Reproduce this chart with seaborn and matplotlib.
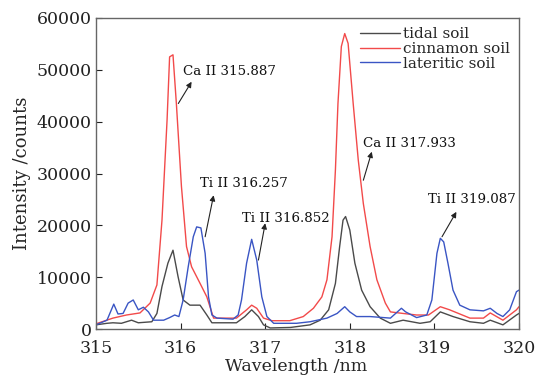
import matplotlib
matplotlib.use("Agg")
import matplotlib.pyplot as plt
import seaborn as sns
import pandas as pd

# ---- data ----
tidal_x = [315.00, 315.13, 315.20, 315.30, 315.42, 315.50, 315.66, 315.72, 315.78, 315.85, 315.91,
           315.97, 316.03, 316.11, 316.23, 316.31, 316.37, 316.66, 316.76, 316.84, 316.92, 316.98,
           317.06, 317.30, 317.53, 317.65, 317.75, 317.83, 317.88, 317.92, 317.95, 318.00, 318.06,
           318.14, 318.24, 318.36, 318.48, 318.63, 318.83, 318.95, 319.07, 319.22, 319.42, 319.58,
           319.66, 319.81, 319.97, 320.00]
tidal_y = [800, 1100, 1200, 1100, 1700, 1200, 1400, 3000, 8200, 12700, 15200,
           10100, 5600, 4600, 4600, 2700, 1200, 1200, 2400, 3700, 2400, 800,
           200, 300, 800, 1700, 3700, 8800, 15900, 21000, 21700, 19100, 12700,
           7500, 4300, 2100, 1100, 1700, 1100, 1400, 3300, 2400, 1400, 1100,
           1700, 800, 2700, 3000]

cinnamon_x = [315.00, 315.20, 315.36, 315.52, 315.64, 315.72, 315.78, 315.84, 315.87, 315.91,
              315.95, 316.01, 316.07, 316.13, 316.23, 316.31, 316.39, 316.66, 316.78, 316.84,
              316.90, 316.98, 317.08, 317.29, 317.45, 317.57, 317.67, 317.73, 317.79, 317.83,
              317.86, 317.90, 317.94, 317.98, 318.04, 318.10, 318.16, 318.24, 318.32, 318.42,
              318.48, 318.63, 318.79, 318.93, 319.07, 319.18, 319.42, 319.58, 319.66, 319.81,
              319.97, 320.00]
cinnamon_y = [1000, 2100, 2700, 3100, 5000, 8500, 21000, 40300, 52500, 52900,
              43500, 27500, 15900, 12000, 8800, 6200, 2100, 2100, 3700, 4600,
              4000, 2100, 1600, 1600, 2400, 4000, 6200, 9500, 17800, 30700,
              43500, 54500, 57000, 55100, 43500, 32600, 24200, 15900, 9500, 5000,
              3300, 3000, 2700, 2700, 4300, 3700, 2100, 2100, 3100, 1700,
              3700, 4300]

lateritic_x = [315.00, 315.13, 315.21, 315.26, 315.32, 315.38, 315.44, 315.50, 315.56, 315.62,
               315.68, 315.80, 315.87, 315.93, 315.98, 316.03, 316.09, 316.15, 316.19, 316.24,
               316.29, 316.33, 316.37, 316.43, 316.62, 316.68, 316.72, 316.78, 316.84, 316.90,
               316.96, 317.02, 317.10, 317.37, 317.53, 317.73, 317.85, 317.94, 318.00, 318.08,
               318.24, 318.48, 318.61, 318.66, 318.79, 318.91, 318.97, 319.03, 319.07, 319.11,
               319.16, 319.22, 319.30, 319.42, 319.58, 319.66, 319.74, 319.81, 319.89, 319.97,
               320.00]
lateritic_y = [800, 1700, 4800, 2900, 3000, 5000, 5600, 3700, 4200, 3300,
               1700, 1700, 2200, 2700, 2400, 5600, 12000, 17800, 19700, 19500,
               14600, 6200, 2700, 2100, 1900, 2700, 5600, 12700, 17300, 13300,
               6200, 2400, 1100, 1100, 1400, 2100, 3000, 4300, 3300, 2400,
               2400, 2100, 4000, 3300, 2200, 2700, 5600, 14600, 17500, 16800,
               12700, 7500, 4600, 3700, 3500, 4000, 3000, 2400, 3700, 7200,
               7500]

series_names = ["tidal soil", "cinnamon soil", "lateritic soil"]
colors = ["#4a4a4a", "#f24a4a", "#3a55c4"]

annotations = [
    ("Ca II 315.887", (316.03, 49600), (315.973, 43500), (316.13, 47700)),
    ("Ti II 316.257", (316.23, 28100), (316.29, 17800), (316.39, 25800)),
    ("Ti II 316.852", (316.72, 21400), (316.92, 13300), (317.00, 20400)),
    ("Ca II 317.933", (318.16, 35800), (318.16, 28700), (318.26, 34200)),
    ("Ti II 319.087", (318.92, 25000), (319.09, 17800), (319.26, 22600)),
]

# ---- build long-form table ----
frames = []
for name, xs, ys in zip(series_names,
                        [tidal_x, cinnamon_x, lateritic_x],
                        [tidal_y, cinnamon_y, lateritic_y]):
    frames.append(pd.DataFrame({"wl": xs, "I": ys, "soil": name}))
df = pd.concat(frames, ignore_index=True)

sns.set_style("ticks")
plt.rcParams["font.family"] = ["DejaVu Serif"]

fig = plt.figure(figsize=(5.36, 3.78), dpi=100)
ax = fig.add_axes([96 / 536, 1 - 329 / 378, (519 - 96) / 536, (329 - 18) / 378])

sns.lineplot(data=df, x="wl", y="I", hue="soil", hue_order=series_names,
             palette=colors, linewidth=1.0, sort=False, estimator=None, ax=ax)

ax.set_xlim(315, 320)
ax.set_ylim(0, 60000)
ax.set_xticks([315, 316, 317, 318, 319, 320])
ax.set_yticks([0, 10000, 20000, 30000, 40000, 50000, 60000])
ax.tick_params(direction="in", length=4, width=0.8, labelsize=12.5, colors="#222222",
               pad=3)
ax.tick_params(axis="x", pad=8)
for s in ax.spines.values():
    s.set_color("#666666")
    s.set_linewidth(1.0)

ax.set_xlabel("Wavelength /nm", fontsize=12.5, va="top")
ax.xaxis.set_label_coords((296 - 96) / 423, -0.093)
ax.set_ylabel("Intensity /counts", fontsize=13, labelpad=4)

for text, txy, tail, head in annotations:
    ax.text(txy[0], txy[1], text, fontsize=9.6, ha="left", va="center", color="#111111")
    ax.annotate("", xy=head, xytext=tail,
                arrowprops=dict(arrowstyle="-|>", color="#222222", lw=0.8,
                                mutation_scale=8, shrinkA=0, shrinkB=0))

leg = ax.legend(loc="upper right", frameon=False, fontsize=11, handlelength=2.6,
                handletextpad=0.2, labelspacing=0.05, borderaxespad=0.2,
                bbox_to_anchor=(1.0, 1.0))

fig.savefig("out.png", dpi=100)
